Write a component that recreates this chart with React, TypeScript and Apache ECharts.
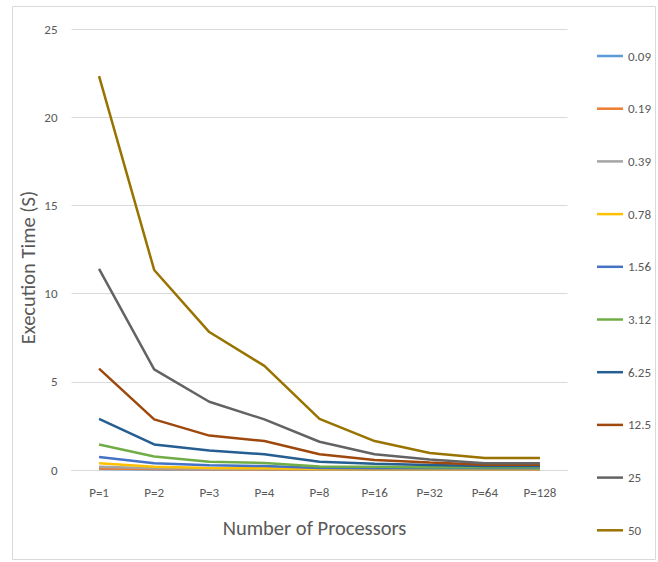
import React, { useEffect, useRef } from "react";
import * as echarts from "echarts";

const categories = ["P=1", "P=2", "P=3", "P=4", "P=8", "P=16", "P=32", "P=64", "P=128"];
const seriesNames = ["0.09", "0.19", "0.39", "0.78", "1.56", "3.12", "6.25", "12.5", "25", "50"];
const seriesColors = ["#5B9BD5", "#ED7D31", "#A5A5A5", "#FFC000", "#4472C4", "#70AD47", "#255E91", "#9E480E", "#636363", "#997300"];

const s009 = [0.05, 0.03, 0.03, 0.02, 0.02, 0.02, 0.02, 0.02, 0.02];
const s019 = [0.09, 0.05, 0.04, 0.03, 0.03, 0.03, 0.03, 0.03, 0.03];
const s039 = [0.19, 0.1, 0.07, 0.06, 0.04, 0.04, 0.04, 0.04, 0.04];
const s078 = [0.38, 0.19, 0.12, 0.1, 0.06, 0.06, 0.06, 0.06, 0.06];
const s156 = [0.74, 0.38, 0.27, 0.22, 0.12, 0.1, 0.1, 0.1, 0.1];
const s312 = [1.45, 0.76, 0.47, 0.4, 0.2, 0.18, 0.15, 0.15, 0.15];
const s625 = [2.9, 1.45, 1.1, 0.89, 0.47, 0.35, 0.28, 0.22, 0.22];
const s125 = [5.75, 2.87, 1.95, 1.64, 0.89, 0.57, 0.43, 0.3, 0.3];
const s25 = [11.4, 5.7, 3.87, 2.87, 1.6, 0.89, 0.6, 0.38, 0.38];
const s50 = [22.33, 11.34, 7.82, 5.9, 2.9, 1.64, 0.96, 0.68, 0.68];
const seriesValues = [s009, s019, s039, s078, s156, s312, s625, s125, s25, s50];

const yTicks = { min: 0, max: 25, interval: 5 };

export default function App() {
  const ref = useRef<HTMLDivElement>(null);
  useEffect(() => {
    document.body.style.margin = "0";
    const chart = echarts.init(ref.current!, null, { renderer: "svg" });
    const font = "Calibri, Carlito, 'Liberation Sans', 'Open Sans', sans-serif";
    chart.setOption({
      animation: false,
      backgroundColor: "#ffffff",
      textStyle: { fontFamily: font },
      graphic: [
        {
          type: "rect",
          shape: { x: 12.5, y: 6.5, width: 643, height: 553 },
          style: { fill: "none", stroke: "#D9D9D9", lineWidth: 1 },
          silent: true,
        },
      ],
      grid: { left: 71.5, right: 90.5, top: 29, bottom: 92, containLabel: false },
      legend: {
        orient: "vertical",
        left: 592,
        top: 44,
        icon: "rect",
        itemWidth: 26,
        itemHeight: 2.5,
        itemGap: 38.7,
        textStyle: { color: "#595959", fontSize: 13, fontFamily: font, lineHeight: 14 },
        data: seriesNames,
      },
      xAxis: {
        type: "category",
        data: categories,
        boundaryGap: true,
        name: "Number of Processors",
        nameLocation: "middle",
        nameGap: 47,
        nameTextStyle: { color: "#595959", fontSize: 20.5, fontFamily: font, padding: [0, 10, 0, 0] },
        axisLine: { lineStyle: { color: "#D9D9D9" } },
        axisTick: { show: false },
        axisLabel: { color: "#595959", fontSize: 13, margin: 16 },
      },
      yAxis: {
        type: "value",
        min: yTicks.min,
        max: yTicks.max,
        interval: yTicks.interval,
        name: "Execution Time (S)",
        nameLocation: "middle",
        nameMoveOverlap: false,
        nameGap: 33,
        nameTextStyle: { color: "#595959", fontSize: 20.5, fontFamily: font, padding: [0, 36, 0, 0] },
        axisLine: { show: false },
        axisTick: { show: false },
        axisLabel: { color: "#595959", fontSize: 13, margin: 14 },
        splitLine: { lineStyle: { color: "#D9D9D9" } },
      },
      series: seriesNames.map((name, i) => ({
        name,
        type: "line",
        data: seriesValues[i],
        symbol: "none",
        color: seriesColors[i],
        lineStyle: { width: 2.5, color: seriesColors[i] },
      })),
    });
    return () => chart.dispose();
  }, []);
  return <div ref={ref} style={{ width: 658, height: 562 }} />;
}
